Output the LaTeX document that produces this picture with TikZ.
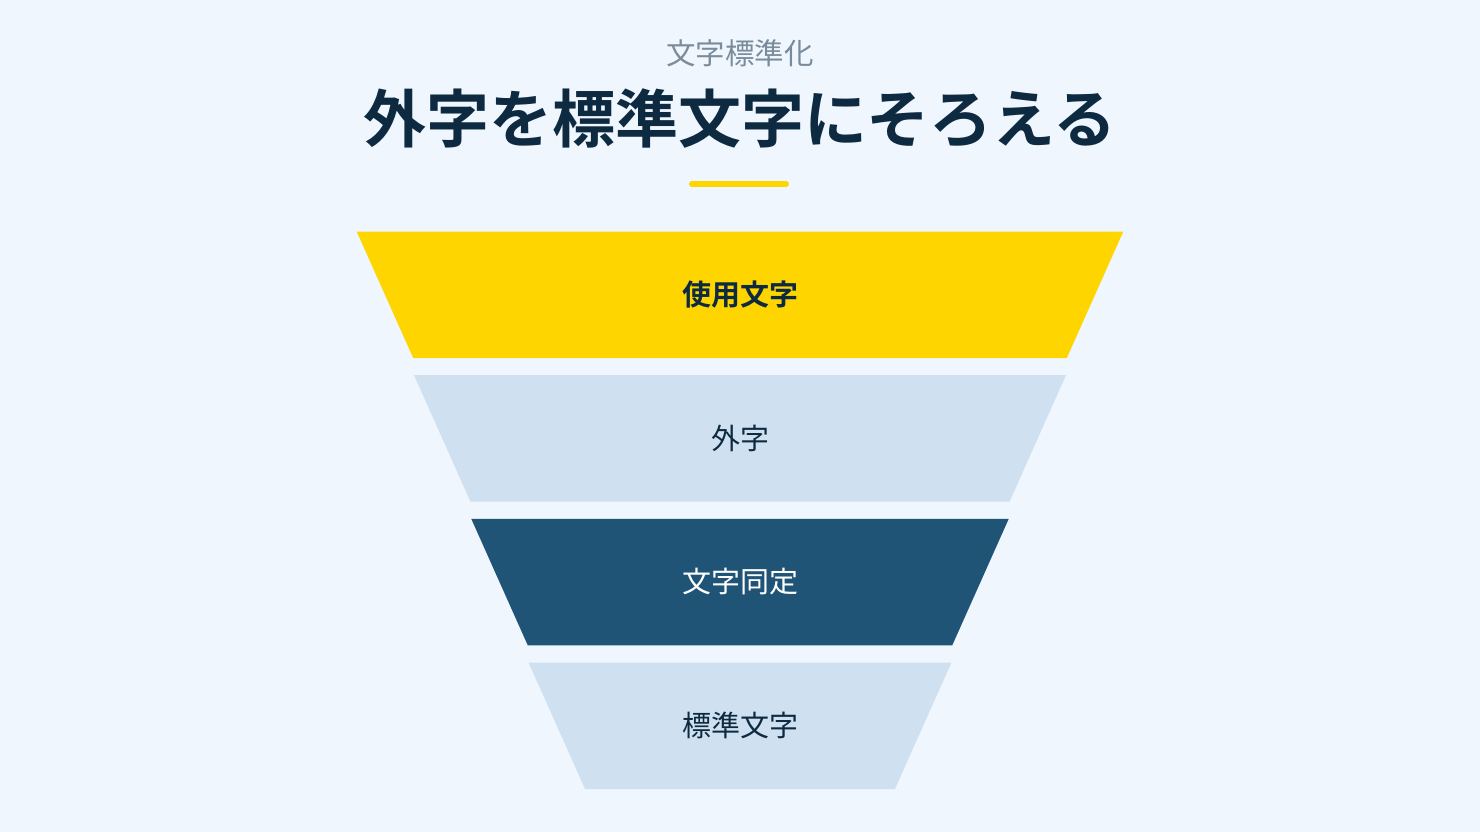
\documentclass[tikz,border=0pt]{standalone}
\usepackage{fontspec}
\usepackage{xcolor}
\usepackage{tikz}
\usetikzlibrary{positioning}
\newfontfamily\jpfont{Noto Sans CJK JP}[BoldFont={Noto Sans CJK JP Bold}]

\definecolor{bgblue}{HTML}{EFF6FD}
\definecolor{inkdark}{HTML}{0D2A40}
\definecolor{subgray}{HTML}{7A8C9C}
\definecolor{gaiyellow}{HTML}{FFD500}
\definecolor{gailight}{HTML}{CFE0F0}
\definecolor{gaidark}{HTML}{1F5476}

\begin{document}
\begin{tikzpicture}[x=1pt,y=-1pt,
  bandtext/.style={font=\jpfont\fontsize{29}{33}\selectfont}]

% Background
\fill[bgblue] (0,0) rectangle (1480,832);

% Headings
\node[text=subgray,font=\jpfont\fontsize{29.5}{33}\selectfont] (kicker) at (740,53) {文字標準化};
\node[text=inkdark,font=\jpfont\bfseries\fontsize{63}{68}\selectfont] (title) at (740,119) {外字を標準文字にそろえる};
\coordinate (ruleL) at (692,184);
\coordinate (ruleR) at (786,184);
\draw[gaiyellow,line width=6pt,line cap=round] (ruleL) -- (ruleR);

% Funnel bands
\def\bandh{126.5}
\def\slant{56.5}
\foreach \i/\fillc/\textc/\txt in {
  0/gaiyellow/inkdark/{\bfseries 使用文字},
  1/gailight/inkdark/{外字},
  2/gaidark/white/{文字同定},
  3/gailight/inkdark/{標準文字}} {
  \pgfmathsetmacro{\yt}{231.5+\i*143.7}
  \pgfmathsetmacro{\xl}{356.7+\i*57.3}
  \pgfmathsetmacro{\xr}{1480-\xl}
  \fill[\fillc] (\xl,\yt) -- (\xr,\yt) -- (\xr-\slant,\yt+\bandh)
    -- (\xl+\slant,\yt+\bandh) -- cycle;
  \node[bandtext,text=\textc] (band\i) at (740,\yt+63) {\txt};
}

\end{tikzpicture}
\end{document}
